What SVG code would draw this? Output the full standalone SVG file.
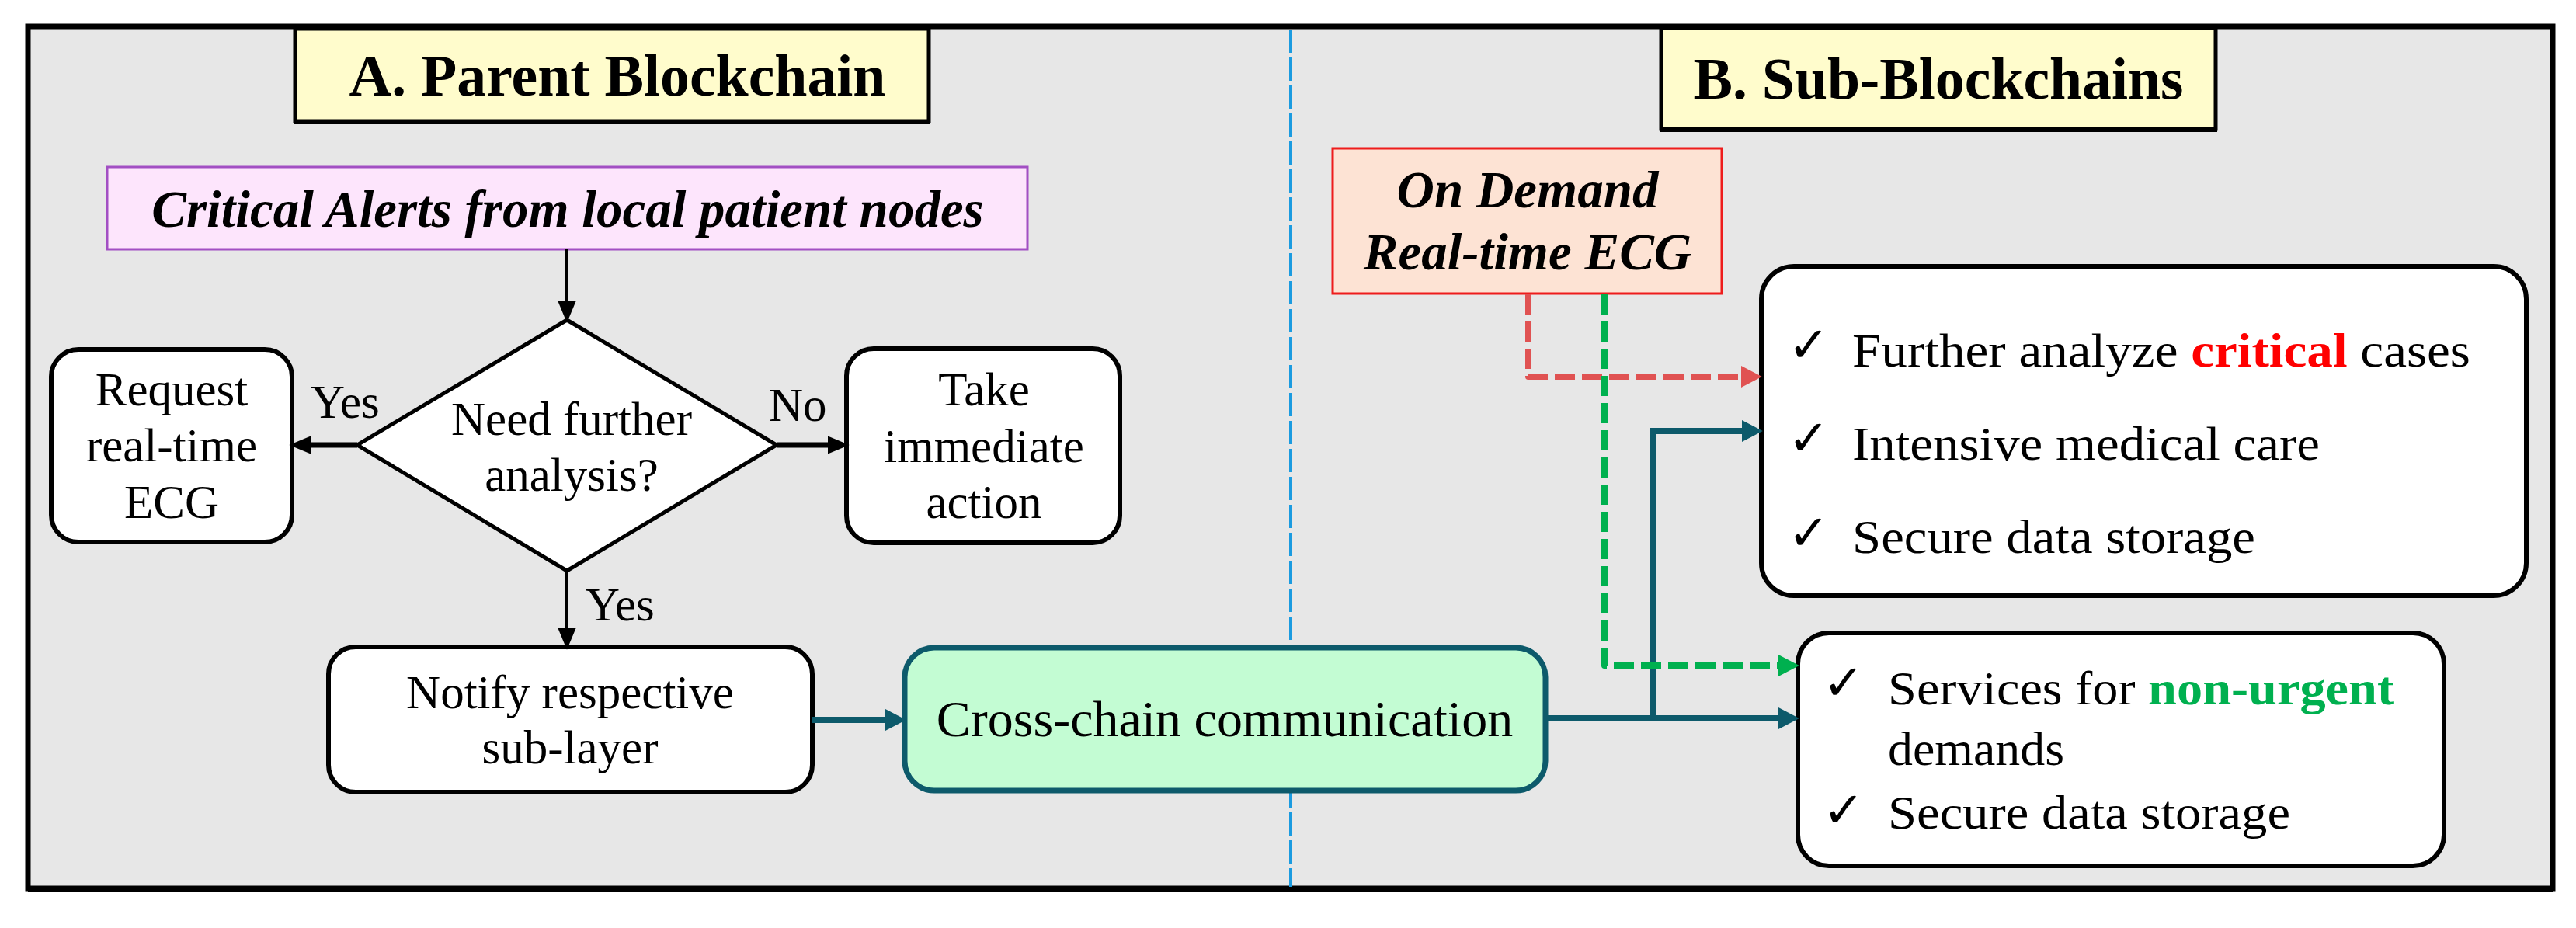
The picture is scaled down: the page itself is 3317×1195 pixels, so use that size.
<svg xmlns="http://www.w3.org/2000/svg" width="3317" height="1195" viewBox="0 0 3317 1195">
<style>
.t{font-family:"Liberation Serif","Times New Roman",serif;fill:#000;}
.r61{font-size:61px;}
.c{text-anchor:middle;}
.title{font-size:77px;font-weight:bold;}
.bi{font-weight:bold;font-style:italic;font-size:67px;}
.box{fill:#fff;stroke:#000;stroke-width:6;}
.ttl{fill:#fffccc;stroke:#000;stroke-width:5;}
.shd{fill:#000;}
.chk{font-family:"DejaVu Sans",sans-serif;font-size:64px;fill:#000;}
.blk{fill:none;stroke:#000;stroke-width:4;}
.blk2{fill:none;stroke:#000;stroke-width:7;}
.teal{fill:none;stroke:#0d5a6b;stroke-width:8;}
.red{fill:none;stroke:#e05252;stroke-width:8;stroke-dasharray:26 9;}
.grn{fill:none;stroke:#00b04f;stroke-width:8;stroke-dasharray:26 9;}
</style>
<defs>
<marker id="aBlk" markerUnits="userSpaceOnUse" markerWidth="30" markerHeight="30" viewBox="0 -12 26 24" refX="0" refY="0" orient="auto"><path d="M0,-10 L24,0 L0,10 z" fill="#000"/></marker>
<marker id="aTeal" markerUnits="userSpaceOnUse" markerWidth="30" markerHeight="30" viewBox="0 -14 26 28" refX="0" refY="0" orient="auto"><path d="M0,-13 L25,0 L0,13 z" fill="#0d5a6b"/></marker>
<marker id="aRed" markerUnits="userSpaceOnUse" markerWidth="30" markerHeight="30" viewBox="0 -14 26 28" refX="0" refY="0" orient="auto"><path d="M0,-13 L25,0 L0,13 z" fill="#e05252"/></marker>
<marker id="aGrn" markerUnits="userSpaceOnUse" markerWidth="30" markerHeight="30" viewBox="0 -14 26 28" refX="0" refY="0" orient="auto"><path d="M0,-13 L25,0 L0,13 z" fill="#00b04f"/></marker>
</defs>

<g id="frame">
<rect x="36" y="34" width="3251" height="1110" fill="#e7e7e7" stroke="#000" stroke-width="7"/>
<line x1="36" y1="1145" x2="3287" y2="1145" stroke="#000" stroke-width="6"/>
<line x1="1662" y1="38" x2="1662" y2="1142" stroke="#1b9be0" stroke-width="4" stroke-dasharray="30 6"/>
</g>

<g id="title-a">
<rect class="shd" x="378" y="40" width="820" height="120"/>
<rect class="ttl" x="380" y="37" width="816" height="119"/>
<text class="t title c" x="795" y="123" textLength="691" lengthAdjust="spacingAndGlyphs">A. Parent Blockchain</text>
</g>
<g id="title-b">
<rect class="shd" x="2137" y="39" width="718" height="131"/>
<rect class="ttl" x="2139" y="36" width="714" height="130"/>
<text class="t title c" x="2496" y="127" textLength="631" lengthAdjust="spacingAndGlyphs">B. Sub-Blockchains</text>
</g>

<g id="alerts">
<rect x="138" y="215" width="1185" height="106" fill="#fde5fc" stroke="#a24fc3" stroke-width="3"/>
<text class="t bi c" x="731" y="292">Critical Alerts from local patient nodes</text>
</g>

<g id="decision">
<polygon points="730,412 1000,573 730,735 460,573" fill="#fff" stroke="#000" stroke-width="5" stroke-linejoin="miter"/>
<text class="t r61 c" x="736" y="560">Need further</text>
<text class="t r61 c" x="736" y="632">analysis?</text>
</g>

<g id="request">
<rect class="box" x="66" y="450" width="310" height="248" rx="35"/>
<text class="t r61 c" x="221" y="522">Request</text>
<text class="t r61 c" x="221" y="594">real-time</text>
<text class="t r61 c" x="221" y="667">ECG</text>
</g>

<g id="take">
<rect class="box" x="1090" y="449" width="352" height="250" rx="35"/>
<text class="t r61 c" x="1267" y="522">Take</text>
<text class="t r61 c" x="1267" y="595">immediate</text>
<text class="t r61 c" x="1267" y="667">action</text>
</g>

<g id="notify">
<rect class="box" x="423" y="833" width="623" height="187" rx="35"/>
<text class="t r61 c" x="734" y="912">Notify respective</text>
<text class="t r61 c" x="734" y="983">sub-layer</text>
</g>

<g id="crosschain">
<rect x="1165" y="834" width="825" height="184" rx="38" fill="#c3fcd3" stroke="#0d5a6b" stroke-width="7"/>
<text class="t c" style="font-size:66px" x="1577" y="948">Cross-chain communication</text>
</g>

<g id="ondemand">
<rect x="1716" y="191" width="501" height="187" fill="#fde3d4" stroke="#ee1c1c" stroke-width="3"/>
<text class="t bi c" x="1967" y="267">On Demand</text>
<text class="t bi c" x="1967" y="347">Real-time ECG</text>
</g>

<g id="critical-services">
<rect class="box" x="2268" y="343" width="985" height="424" rx="42"/>
<text class="chk" x="2302" y="466">✓</text>
<text class="t r61" x="2385" y="472" textLength="796" lengthAdjust="spacingAndGlyphs">Further analyze <tspan fill="#ff0000" font-weight="bold">critical</tspan> cases</text>
<text class="chk" x="2302" y="586">✓</text>
<text class="t r61" x="2385" y="592" textLength="602" lengthAdjust="spacingAndGlyphs">Intensive medical care</text>
<text class="chk" x="2302" y="708">✓</text>
<text class="t r61" x="2385" y="712" textLength="519" lengthAdjust="spacingAndGlyphs">Secure data storage</text>
</g>

<g id="nonurgent-services">
<rect class="box" x="2315" y="815" width="832" height="300" rx="40"/>
<text class="chk" x="2347" y="901">✓</text>
<text class="t r61" x="2431" y="907" textLength="652" lengthAdjust="spacingAndGlyphs">Services for <tspan fill="#00b04f" font-weight="bold">non-urgent</tspan></text>
<text class="t r61" x="2431" y="985" textLength="227" lengthAdjust="spacingAndGlyphs">demands</text>
<text class="chk" x="2347" y="1065">✓</text>
<text class="t r61" x="2431" y="1067" textLength="518" lengthAdjust="spacingAndGlyphs">Secure data storage</text>
</g>

<g id="connectors">
<path class="blk" d="M730,321 V388" marker-end="url(#aBlk)"/>
<path class="blk2" d="M460,573 H400" marker-end="url(#aBlk)"/>
<path class="blk2" d="M1000,573 H1066" marker-end="url(#aBlk)"/>
<path class="blk" d="M730,735 V809" marker-end="url(#aBlk)"/>
<path class="teal" d="M1046,927 H1140" marker-end="url(#aTeal)"/>
<path class="teal" d="M1990,925 H2290" marker-end="url(#aTeal)"/>
<path class="teal" d="M2129,925 V555 H2243" stroke-linejoin="miter" marker-end="url(#aTeal)"/>
<path class="red" d="M1968,379 V485 H2242" stroke-linejoin="round" marker-end="url(#aRed)"/>
<path class="grn" d="M2066,379 V857 H2290" stroke-linejoin="round" marker-end="url(#aGrn)"/>
<text class="t r61" x="400" y="538">Yes</text>
<text class="t r61" x="990" y="542">No</text>
<text class="t r61" x="754" y="799">Yes</text>
</g>
</svg>
